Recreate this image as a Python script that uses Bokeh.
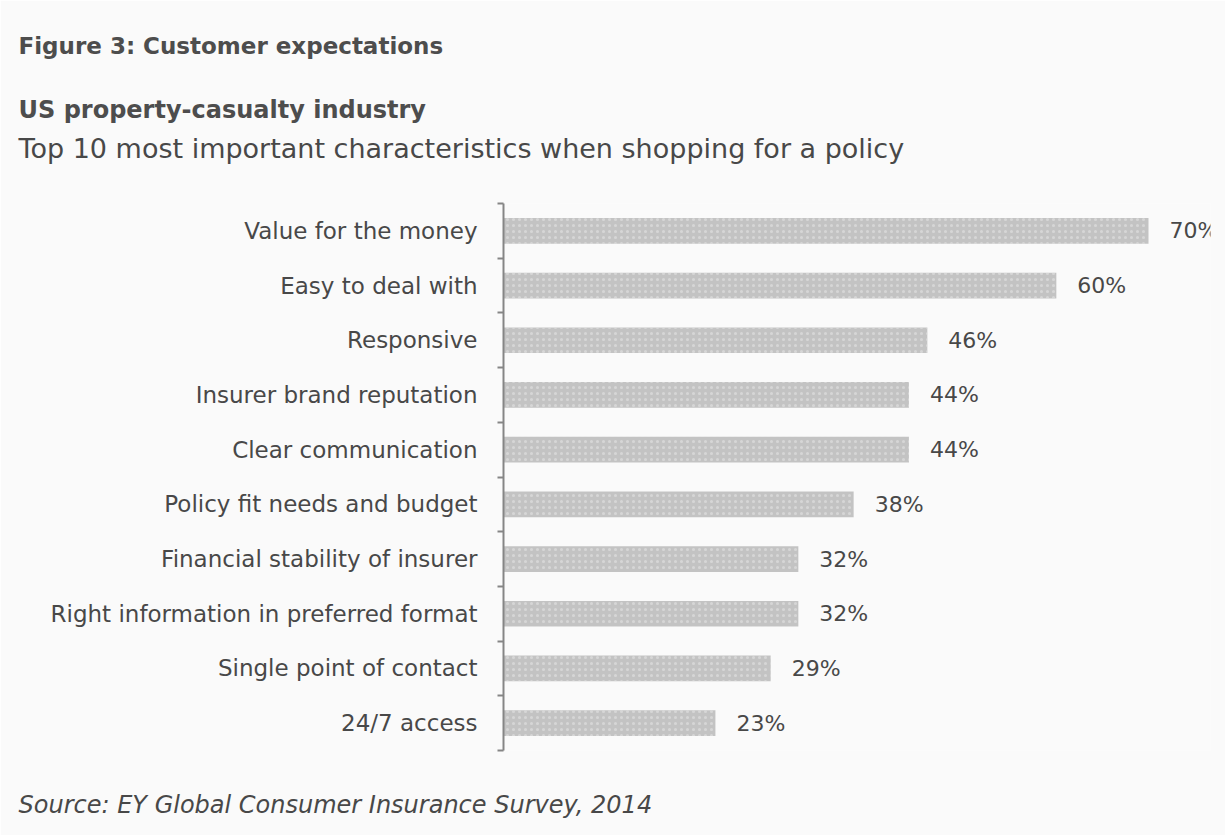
from bokeh.plotting import figure
from bokeh.models import Range1d, FixedTicker, ColumnDataSource, LinearAxis, Title
from bokeh.embed import file_html
from bokeh.resources import INLINE
from bokeh.core.properties import value

categories = ["Value for the money", "Easy to deal with", "Responsive",
              "Insurer brand reputation", "Clear communication",
              "Policy fit needs and budget", "Financial stability of insurer",
              "Right information in preferred format", "Single point of contact",
              "24/7 access"]
values = [70, 60, 46, 44, 44, 38, 32, 32, 29, 23]
value_labels = ["70%", "60%", "46%", "44%", "44%", "38%", "32%", "32%", "29%", "23%"]

title = "Figure 3: Customer expectations"
subtitle1 = "US property-casualty industry"
subtitle2 = "Top 10 most important characteristics when shopping for a policy"
source_note = "Source:  EY Global Consumer Insurance Survey, 2014"

BG = "#fafafa"
FRAME_LEFT = 503
n = len(categories)
ypos = [n - 0.5 - i for i in range(n)]
src = ColumnDataSource(dict(y=ypos, v=values, lab=value_labels, cat=categories))

p = figure(width=1225, height=835, output_backend="svg", toolbar_location=None,
           x_range=Range1d(0, 76.73), y_range=Range1d(0, n),
           x_axis_location=None, y_axis_location=None,
           min_border_left=FRAME_LEFT, min_border_right=15, min_border_top=203,
           min_border_bottom=85, background_fill_color=BG, border_fill_color=BG,
           outline_line_color=None)
p.grid.visible = False

ax = LinearAxis(ticker=FixedTicker(ticks=ypos, minor_ticks=list(range(n + 1))),
                major_label_overrides={y: c for y, c in zip(ypos, categories)})
ax.axis_line_color = "#858585"
ax.axis_line_width = 2
ax.major_tick_line_color = None
ax.major_tick_out = 0
ax.major_tick_in = 0
ax.minor_tick_line_color = "#858585"
ax.minor_tick_line_width = 2
ax.minor_tick_out = 6
ax.minor_tick_in = 0
ax.major_label_standoff = 20
ax.major_label_text_font = "DejaVu Sans"
ax.major_label_text_font_size = "23px"
ax.major_label_text_color = "#484848"
p.add_layout(ax, "left")

p.hbar(y="y", left=0, right="v", height=0.47, source=src,
       fill_color="#c3c3c3", line_color=None,
       hatch_pattern="dot", hatch_color="#e2e2e2", hatch_alpha=0.6, hatch_scale=6)

p.text(x="v", y="y", text="lab", source=src, x_offset=21,
       text_align="left", text_baseline="middle",
       text_font=value("DejaVu Sans"), text_font_size="22px", text_color="#484848")


def ttl(txt, size, style, standoff, color="#484848", side="above"):
    p.add_layout(Title(text=txt, align="left", offset=18 - FRAME_LEFT,
                       vertical_align="middle", text_font="DejaVu Sans",
                       text_font_size=size, text_font_style=style,
                       text_color=color, standoff=standoff), side)


# above panels: first added sits closest to the frame
ttl(" ", "1px", "normal", 35)
ttl(subtitle2, "27px", "normal", 1)
ttl(subtitle1, "24px", "bold", 14, "#4d4d4d")
ttl(title, "23px", "bold", 56, "#4d4d4d")

# below panels
ttl(" ", "1px", "normal", 34, side="below")
ttl(source_note, "24px", "italic", 4, side="below")

open("out.html", "w").write(file_html(p, INLINE))
